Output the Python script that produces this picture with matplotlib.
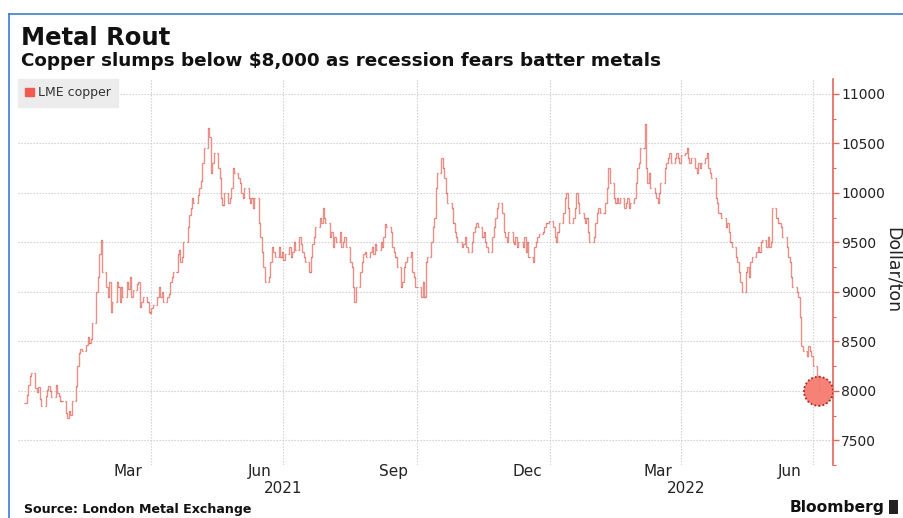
import matplotlib
matplotlib.use("Agg")
import matplotlib.pyplot as plt
import numpy as np
import pandas as pd
from matplotlib.lines import Line2D
from matplotlib.patches import Patch, Rectangle

### LME copper daily closes ($/t), one row per trading week (Mon-Fri)
q1_2021 = [
    7880, 7960, 8060, 8150, 8180,
    8030, 7990, 8040, 7920, 7850,
    7950, 8010, 8050, 8000, 7940,
    8060, 7980, 7950, 7900, 7900,
    7780, 7720, 7800, 7760, 7900,
    8050, 8250, 8380, 8420, 8400,
    8460, 8540, 8480, 8520, 8680,
    9000, 9150, 9380, 9520, 9200,
    9050, 8950, 9100, 8800, 8900,
    9100, 9050, 8900, 9050, 8950,
    9100, 9030, 9150, 8950, 9020,
    9080, 9100, 8850, 8900, 8950,
    8900, 8800, 8790, 8840, 8870,
]
q2_2021 = [
    8950, 9050, 8950, 9000, 8900,
    8950, 8980, 9100, 9150, 9200,
    9380, 9420, 9300, 9350, 9500,
    9650, 9780, 9850, 9950, 9900,
    9980, 10050, 10120, 10300, 10450,
    10650, 10560, 10200, 10300, 10400,
    10250, 10150, 9950, 9880, 10000,
    9900, 9950, 10050, 10250, 10200,
    10150, 10100, 10000, 9950, 10050,
    9950, 9900, 9950, 9850, 9950,
    9700, 9550, 9400, 9250, 9100,
    9150, 9300, 9450, 9400, 9350,
    9450, 9350, 9400, 9320, 9380,
]
q3_2021 = [
    9450, 9350, 9400, 9500, 9420,
    9550, 9480, 9400, 9350, 9300,
    9200, 9350, 9480, 9550, 9650,
    9750, 9700, 9850, 9750, 9700,
    9550, 9600, 9450, 9550, 9500,
    9600, 9450, 9500, 9550, 9450,
    9300, 9250, 9050, 8900, 9050,
    9200, 9300, 9380, 9400, 9350,
    9400, 9450, 9380, 9480, 9420,
    9500, 9450, 9550, 9680, 9650,
    9600, 9450, 9400, 9350, 9250,
    9050, 9100, 9250, 9300, 9350,
    9400, 9200, 9150, 9050, 9050,
]
q4_2021 = [
    8950, 9100, 8950, 9300, 9350,
    9500, 9650, 9750, 10050, 10200,
    10350, 10250, 10150, 10000, 9900,
    9850, 9700, 9600, 9550, 9500,
    9450, 9480, 9550, 9450, 9400,
    9500, 9600, 9650, 9700, 9650,
    9550, 9600, 9500, 9450, 9400,
    9550, 9650, 9750, 9850, 9900,
    9800, 9600, 9550, 9500, 9600,
    9500, 9480, 9550, 9450, 9500,
    9450, 9550, 9400, 9500, 9350,
    9300, 9450, 9500, 9550, 9580,
    9600, 9650, 9700, 9700, 9720,
]
q1_2022 = [
    9650, 9550, 9500, 9600, 9700,
    9800, 9950, 10000, 9850, 9700,
    9750, 9850, 10000, 9900, 9800,
    9750, 9700, 9750, 9600, 9500,
    9550, 9700, 9800, 9850, 9800,
    9800, 9900, 10050, 10250, 10100,
    9950, 9900, 9950, 9900, 9950,
    9850, 9900, 9950, 9850, 9900,
    9950, 10100, 10250, 10300, 10450,
    10700, 10250, 10100, 10200, 10050,
    10000, 9950, 9900, 10000, 10100,
    10250, 10300, 10350, 10400, 10300,
    10350, 10400, 10350, 10300, 10380,
]
q2_2022 = [
    10400, 10450, 10350, 10300, 10350,
    10250, 10200, 10300, 10250, 10300,
    10350, 10400, 10250, 10200, 10150,
    9950, 9900, 9800, 9800, 9750,
    9650, 9700, 9600, 9500, 9450,
    9350, 9300, 9200, 9100, 9000,
    9200, 9250, 9150, 9300, 9350,
    9400, 9450, 9400, 9500, 9520,
    9450, 9550, 9450, 9500, 9850,
    9750, 9700, 9700, 9650, 9550,
    9450, 9350, 9300, 9150, 9050,
    9000, 8950, 8750, 8450, 8400,
    8350, 8450, 8400, 8350, 8250,
]
july_2022 = [8150, 7995]

month_labels = ["Mar", "Jun", "Sep", "Dec", "Mar", "Jun"]
month_ticks = ["2021-03-16", "2021-06-15", "2021-09-15", "2021-12-16", "2022-03-16", "2022-06-15"]
quarter_lines = ["2021-04-01", "2021-07-01", "2021-10-01", "2022-01-01", "2022-04-01", "2022-07-01"]
year_labels = ["2021", "2022"]
year_ticks = ["2021-07-01", "2022-04-05"]
y_ticks = [7500, 8000, 8500, 9000, 9500, 10000, 10500, 11000]

RED = "#e0675c"
BAR = "#e99188"
TICK = "#dd6a60"

def main():
    closes = np.array(q1_2021 + q2_2021 + q3_2021 + q4_2021 + q1_2022 + q2_2022 + july_2022, dtype=float)
    dates = pd.bdate_range("2021-01-04", periods=len(closes))
    opens = np.concatenate([[closes[0]], closes[:-1]])

    fig = plt.figure(figsize=(9.04, 5.18), dpi=100)
    ax = fig.add_axes([0.0199, 0.1023, 0.9016, 0.7452])

    ### bars: open (prev close) tick left, close tick right
    half = pd.Timedelta(hours=17)
    ax.vlines(dates, np.minimum(opens, closes), np.maximum(opens, closes), color=BAR, lw=1.0)
    ax.hlines(closes, dates, dates + half, color=TICK, lw=0.9)
    ax.hlines(opens, dates - half, dates, color=TICK, lw=0.9)

    ### last point marker
    ax.scatter([dates[-1]], [closes[-1]], s=21**2, facecolor="#f57a70", edgecolor="#a8231b",
               linewidths=1.3, linestyle=(0, (1, 1.2)), zorder=5, alpha=0.95)

    ax.set_xlim(pd.Timestamp("2020-12-30"), pd.Timestamp("2022-07-15"))
    ax.set_ylim(7330, 11150)

    ### y axis on right, red
    ax.yaxis.tick_right()
    ax.set_yticks(y_ticks)
    ax.set_yticklabels([str(v) for v in y_ticks])
    ax.set_yticks(np.arange(7250, 11001, 250), minor=True)
    ax.tick_params(axis="y", which="major", length=4, width=1, color=RED, labelsize=10,
                   labelcolor="#222222", pad=2)
    ax.tick_params(axis="y", which="minor", length=2.5, width=0.8, color=RED)
    ax.text(1.0736, 0.505, "Dollar/ton", transform=ax.transAxes, rotation=270, fontsize=12.5,
            color="#222222", ha="center", va="center")

    for s in ["top", "left", "bottom"]:
        ax.spines[s].set_visible(False)
    ax.spines["right"].set_color(RED)
    ax.spines["right"].set_linewidth(1.2)

    ### x axis: month labels mid-month, quarter gridlines
    ax.set_xticks(pd.to_datetime(month_ticks))
    ax.set_xticklabels(month_labels)
    ax.set_xticks(pd.to_datetime(quarter_lines), minor=True)
    ax.tick_params(axis="x", which="both", length=0, labelsize=11, labelcolor="#222222", pad=-1)

    ax.grid(axis="y", which="major", color="#cccccc", ls=(0, (1.2, 1.5)), lw=0.8)
    ax.grid(axis="x", which="minor", color="#cccccc", ls=(0, (1.2, 1.5)), lw=0.8)
    ax.set_axisbelow(True)

    trans = ax.get_xaxis_transform()
    for lab, d in zip(year_labels, year_ticks):
        ax.text(pd.Timestamp(d), -0.062, lab, transform=trans, ha="center", va="center",
                fontsize=11, color="#222222")

    ### legend
    leg = ax.legend(handles=[Patch(color="#f05a50", label="LME copper")], loc="upper left",
                    bbox_to_anchor=(0.0, 1.0), borderaxespad=0.0, frameon=True, fancybox=False,
                    facecolor="#ececec", edgecolor="#ececec", framealpha=1, fontsize=9,
                    handlelength=0.7, handleheight=0.7, handletextpad=0.3, borderpad=0.6)
    for t in leg.get_texts():
        t.set_color("#333333")

    ### titles
    fig.text(0.023, 0.913, "Metal Rout", fontsize=17.5, fontweight="bold", color="#111111", va="baseline")
    fig.text(0.023, 0.873, "Copper slumps below $8,000 as recession fears batter metals",
             fontsize=13.2, fontweight="bold", color="#111111", va="baseline")
    fig.text(0.027, 0.017, "Source: London Metal Exchange", fontsize=9.1, fontweight="bold",
             color="#111111", va="center")
    fig.text(0.978, 0.021, "Bloomberg", fontsize=11.2, fontweight="bold", color="#111111",
             va="center", ha="right")
    fig.add_artist(Rectangle((0.983, 0.008), 0.010, 0.026, facecolor="#222222",
                             edgecolor="none", transform=fig.transFigure))

    ### blue frame lines at top and left
    fig.add_artist(Line2D([0.010, 1.0], [0.973, 0.973], color="#3b7dd8", lw=1.2, transform=fig.transFigure))
    fig.add_artist(Line2D([0.010, 0.010], [0.0, 0.973], color="#3b7dd8", lw=1.2, transform=fig.transFigure))

    fig.savefig("out.png", dpi=100)
    plt.close(fig)

if __name__ == "__main__":
    main()
